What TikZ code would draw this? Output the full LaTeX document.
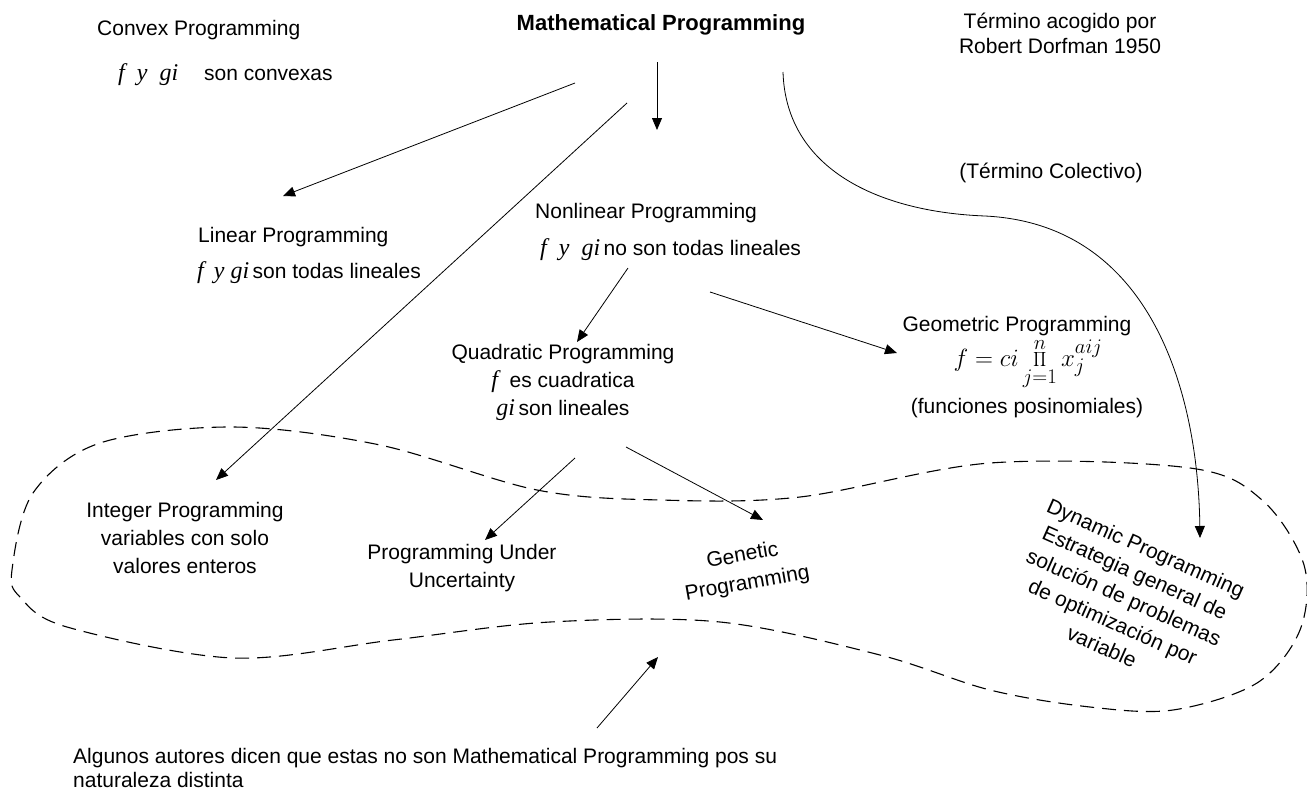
\documentclass[tikz,border=0pt]{standalone}
\usepackage{fontspec}
\setmainfont{Liberation Sans}
\newfontfamily\tms{Liberation Serif}
\usetikzlibrary{arrows.meta}
\newcommand{\mf}[1]{{\tms\itshape\fontsize{24}{27}\selectfont #1}}
\begin{document}
\begin{tikzpicture}[x=1pt,y=-1pt,
  txt/.style={inner sep=0pt,font=\fontsize{21}{28}\selectfont},
  arr/.style={-{Triangle[length=12pt,width=10pt]},line width=0.8pt},
  hull/.style={dashed,dash pattern=on 14pt off 8pt,line width=1.1pt}]
\useasboundingbox (0,0) rectangle (1307,793);
% texts
\node[txt,font=\bfseries\fontsize{22}{26}\selectfont] (mp) at (661,25) {Mathematical Programming};
\node[txt,anchor=west] (cvx) at (97,30) {Convex Programming};
\node[txt,anchor=west] (cvxf) at (118,75) {\mf{f\ \ y\ \ gi}\hspace{26pt}son convexas};
\node[txt,align=center,font=\fontsize{21}{25}\selectfont] (term) at (1060,33) {Término acogido por\\Robert Dorfman 1950};
\node[txt] (col) at (1051,173) {(Término Colectivo)};
\node[txt,anchor=west] (lin) at (198,237) {Linear Programming};
\node[txt,anchor=west] (linf) at (197,273) {\mf{f\ \,y\ gi}\,son todas lineales};
\node[txt,anchor=west] (nl) at (535,213) {Nonlinear Programming};
\node[txt,anchor=west] (nlf) at (540,250) {\mf{f\ \ y\ \ gi}\,no son todas lineales};
\node[txt,align=center] (quad) at (563,382) {Quadratic Programming\\\mf{f}\ \ es cuadratica\\\mf{gi}\,son lineales};
\node[txt] (geo) at (1017,326) {Geometric Programming};
\node[inner sep=0pt,font=\fontsize{28}{32}\selectfont] (geof) at (1028,364) {$\displaystyle f = ci\prod_{j=1}^{n} x_j^{aij}$};
\node[txt] (pos) at (1027,408) {(funciones posinomiales)};
\node[txt,align=center] (int) at (185,538) {Integer Programming\\variables con solo\\valores enteros};
\node[txt,align=center] (unc) at (462,568) {Programming Under\\Uncertainty};
\node[txt,align=center,rotate=10] (gen) at (745,570) {Genetic\\Programming};
\node[txt,align=center,rotate=-24,font=\fontsize{21}{27}\selectfont] (dyn) at (1124,597) {Dynamic Programming\\Estrategia general de\\solución de problemas\\de optimización por\\variable};
\node[txt,anchor=west,align=left,font=\fontsize{21}{24}\selectfont] (note) at (73,768) {Algunos autores dicen que estas no son Mathematical Programming pos su\\naturaleza distinta};
% connector end points
\coordinate (a0) at (657,62);   \coordinate (a1) at (657,130);
\coordinate (b0) at (575,83);   \coordinate (b1) at (283,196);
\coordinate (c0) at (627,103);  \coordinate (c1) at (216,480);
\coordinate (d0) at (628,268);  \coordinate (d1) at (577,342);
\coordinate (e0) at (710,292);  \coordinate (e1) at (897,353);
\coordinate (f0) at (575,458);  \coordinate (f1) at (485,540);
\coordinate (g0) at (626,447);  \coordinate (g1) at (763,520);
\coordinate (h0) at (597,728);  \coordinate (h1) at (658,657);
\coordinate (k0) at (783,72);   \coordinate (k1) at (1200,538);
% arrows
\draw[arr] (a0) -- (a1);
\draw[arr] (b0) -- (b1);
\draw[arr] (c0) -- (c1);
\draw[arr] (d0) -- (d1);
\draw[arr] (e0) -- (e1);
\draw[arr] (f0) -- (f1);
\draw[arr] (g0) -- (g1);
\draw[arr] (h0) -- (h1);
\draw[arr] (k0) .. controls (786,170) and (880,212) .. (985,216)
  .. controls (1150,224) and (1198,390) .. (k1);
% dashed hull
\draw[hull] plot[smooth cycle,tension=0.55] coordinates {
 (12,570) (33,493) (100,443) (233,427) (380,445) (537,490) (660,500)
 (800,497) (990,463) (1190,468) (1262,500) (1304,565) (1300,630)
 (1257,683) (1173,710) (1090,707) (990,690) (880,655) (720,622)
 (550,622) (393,640) (233,658) (67,627) (20,597)};
\end{tikzpicture}
\end{document}
